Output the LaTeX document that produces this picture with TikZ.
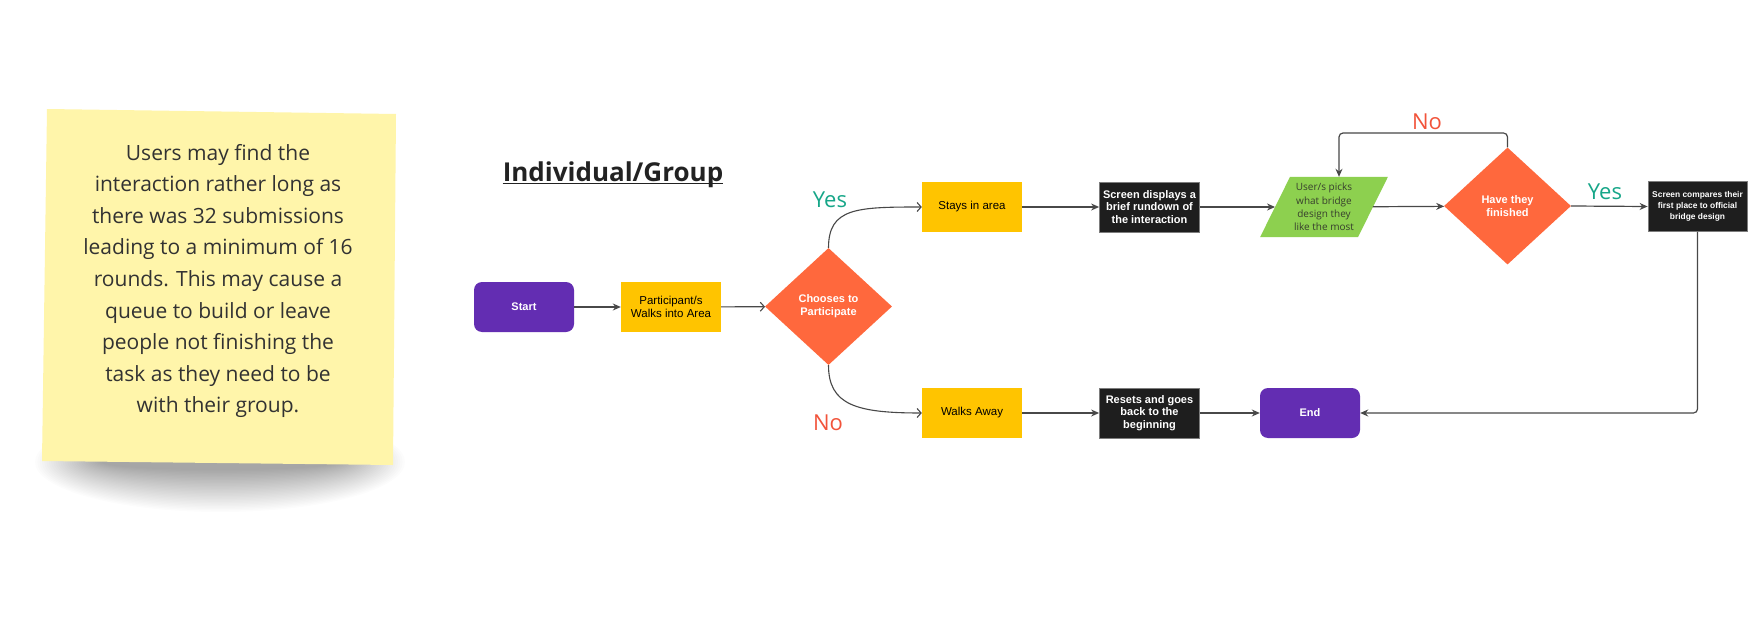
\documentclass[tikz,border=0pt]{standalone}
\usepackage{fontspec}
\setmainfont{Liberation Sans}
\newfontfamily\osans{Open Sans}
\usetikzlibrary{shapes.geometric,arrows.meta,backgrounds}
\definecolor{purp}{RGB}{99,45,178}
\definecolor{gold}{RGB}{255,196,0}
\definecolor{orng}{RGB}{255,104,61}
\definecolor{dark}{RGB}{30,30,30}
\definecolor{bord}{RGB}{125,125,125}
\definecolor{grn}{RGB}{141,208,79}
\definecolor{yesc}{RGB}{22,166,136}
\definecolor{noc}{RGB}{242,83,58}
\definecolor{linec}{RGB}{72,72,72}
\definecolor{notec}{RGB}{50,50,50}
\definecolor{titlec}{RGB}{34,34,34}
\definecolor{pickt}{RGB}{55,62,45}
\definecolor{notefill}{RGB}{255,245,170}
\begin{document}
\begin{tikzpicture}[x=1pt,y=-1pt,
  box/.style={minimum width=100pt, minimum height=50pt, inner sep=2pt, align=center, font=\fontsize{11.5}{12.7}\selectfont},
  term/.style={box, fill=purp, rounded corners=8pt, text=white, font=\bfseries\fontsize{11}{12.7}\selectfont},
  act/.style={box, fill=gold, text=black},
  scr/.style={box, fill=dark, draw=bord, line width=0.8pt, text=white, font=\bfseries\fontsize{11}{12.7}\selectfont},
  dec/.style={diamond, fill=orng, text=white, minimum width=127pt, minimum height=117pt, inner sep=0pt, align=center, font=\bfseries\fontsize{11}{12.7}\selectfont},
  flow/.style={draw=linec, line width=1.2pt, -{Stealth[length=8pt,width=7pt]}},
  flowo/.style={draw=linec, line width=1.1pt, -{Straight Barb[length=4pt,width=9pt]}},
  lab/.style={font=\osans\fontsize{22}{26}\selectfont, inner sep=0pt, anchor=base}
]
\begin{scope}[on background layer]
  \fill[white] (0,0) rectangle (1759,626);
\end{scope}
\useasboundingbox (0,0) rectangle (1759,626);

% sticky note shadow
\foreach \i in {0,...,29} {
  \fill[black, opacity=0.012] (220,462) ellipse ({185-2.3*\i} and {50-1.45*\i});
}
% sticky note
\fill[notefill] (47,109) -- (396,114) -- (393,465) -- (42,461) -- cycle;
\node[font=\osans\fontsize{21}{31.6}\selectfont, text=notec, align=center] (note) at (218,281)
  {Users may find the\\interaction rather long as\\there was 32 submissions\\leading to a minimum of 16\\rounds. This may cause a\\queue to build or leave\\people not finishing the\\task as they need to be\\with their group.};

% title
\node[font=\osans\bfseries\fontsize{26}{30}\selectfont, text=titlec, inner sep=0pt, anchor=base] (title) at (613,181) {Individual/Group};
\draw[titlec, line width=1.8pt] ([yshift=-2.5pt]title.base west) -- ([yshift=-2.5pt]title.base east);

% nodes
\node[term] (start) at (524,307) {Start};
\node[act] (part) at (671,307) {Participant/s\\Walks into Area};
\node[dec] (d1) at (828.5,306.5) {Chooses to\\Participate};
\node[act] (stay) at (972,207) {Stays in area};
\node[scr] (disp) at (1149.5,207) {Screen displays a\\brief rundown of\\the interaction};
\node[minimum width=97.5pt, minimum height=60pt, inner sep=0pt, align=center, text=pickt, font=\osans\fontsize{10}{13.3}\selectfont] (pick) at (1324,207) {User/s picks\\what bridge\\design they\\like the most};
\begin{scope}[on background layer]
  \fill[grn] ([xshift=15pt]pick.north west) -- ([xshift=15pt]pick.north east) -- ([xshift=-15pt]pick.south east) -- ([xshift=-15pt]pick.south west) -- cycle;
\end{scope}
\node[dec] (d2) at (1507.5,206) {Have they\\finished};
\node[scr, minimum width=99pt, font=\bfseries\fontsize{8.4}{10.7}\selectfont] (comp) at (1697.5,206.5) {Screen compares their\\first place to official\\bridge design};
\node[act] (walk) at (972,413) {Walks Away};
\node[scr] (reset) at (1149.5,413) {Resets and goes\\back to the\\beginning};
\node[term] (end) at (1310,413) {End};
\coordinate (nl) at (1339,133);

% connectors
\draw[flow] (start) -- (part);
\draw[flowo] (part) -- (d1);
\draw[flowo] (d1.north) .. controls +(0,-40) and +(-65,0) .. (stay.west);
\draw[flowo] (d1.south) .. controls +(0,40) and +(-65,0) .. (walk.west);
\draw[flow] (stay) -- (disp);
\draw[flow] (disp) -- (pick);
\draw[flow] (pick) -- (d2);
\draw[flow] (d2.east) -- (comp.west);
\draw[flow, rounded corners=4pt] (d2.north) |- (nl) -- (nl |- pick.north);
\draw[flow] (walk) -- (reset);
\draw[flow] (reset) -- (end);
\draw[flow, rounded corners=4pt] (comp.south) |- (end.east);

% labels
\node[lab, text=yesc] (y1) at (830,207) {Yes};
\node[lab, text=noc] (n1) at (828,430) {No};
\node[lab, text=noc] (n2) at (1427,129) {No};
\node[lab, text=yesc] (y2) at (1605,199) {Yes};
\end{tikzpicture}
\end{document}
